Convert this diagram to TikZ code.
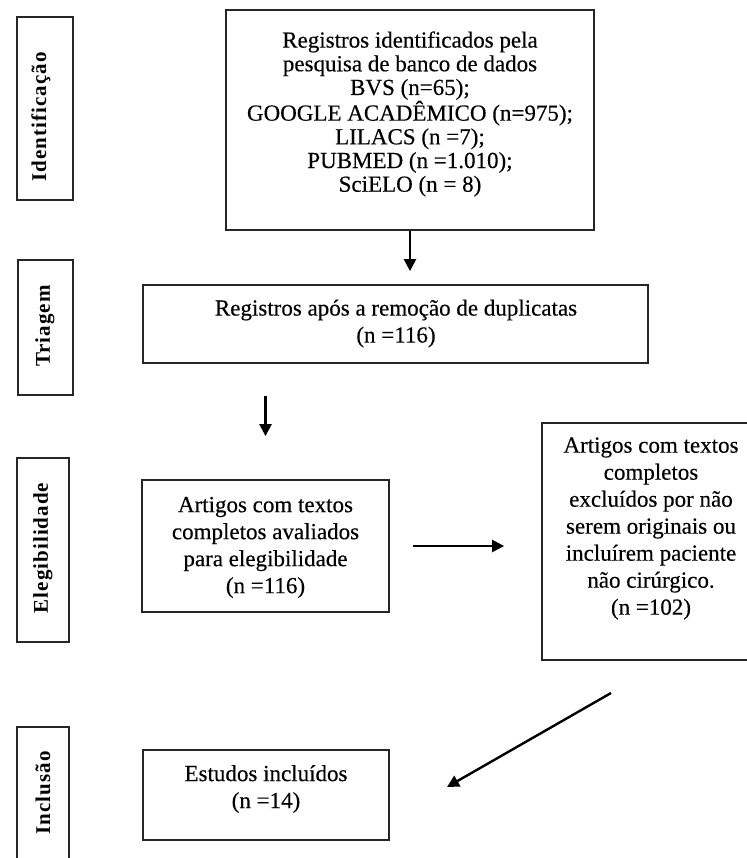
\documentclass[tikz,border=0pt]{standalone}
\usepackage{fontspec}
\setmainfont{Liberation Serif}[FakeBold=0.3]
\newfontfamily\lblfont{Liberation Serif}[LetterSpace=5]
\usetikzlibrary{arrows.meta}
\begin{document}
\begin{tikzpicture}[x=1pt,y=-1pt,
  frame/.style={draw=black!85, line width=1.8pt, inner sep=0pt},
  txt/.style={align=center, inner sep=0pt, font=\fontsize{23}{27}\selectfont},
  lbltxt/.style={rotate=90, inner sep=0pt, font=\lblfont\bfseries\fontsize{21}{23}\selectfont},
  arr/.style={line width=2.4pt, -{Triangle[length=12pt,width=12pt]}}]
\useasboundingbox[fill=white] (0,0) rectangle (746,858);
% stage label boxes
\node[frame, minimum width=56pt, minimum height=183pt] (lid) at (45,108.5) {};
\node[lbltxt] (tid) at (41,117) {Identificação};
\node[frame, minimum width=55pt, minimum height=135pt] (ltr) at (45.5,327.5) {};
\node[lbltxt] (ttr) at (45,326) {Triagem};
\node[frame, minimum width=52pt, minimum height=184pt] (lel) at (43,550) {};
\node[lbltxt] (tel) at (43,548) {Elegibilidade};
\node[frame, minimum width=52pt, minimum height=152pt] (lin) at (43,803) {};
\node[lbltxt] (tin) at (43,793) {Inclusão};
% main boxes
\node[frame, minimum width=368pt, minimum height=220pt] (b1) at (410,120) {};
\node[txt, font=\fontsize{23}{23.7}\selectfont] (t1) at (410,114) {Registros identificados pela\\pesquisa de banco de dados\\BVS (n=65);\\GOOGLE ACADÊMICO (n=975);\\LILACS (n =7);\\PUBMED (n =1.010);\\SciELO (n = 8)};
\node[frame, minimum width=505pt, minimum height=78pt] (b2) at (395.5,324) {};
\node[txt] (t2) at (396,323.5) {Registros após a remoção de duplicatas\\(n =116)};
\node[frame, minimum width=247pt, minimum height=132pt] (b3) at (265.5,546) {};
\node[txt] (t3) at (265.5,547.5) {Artigos com textos\\completos avaliados\\para elegibilidade\\(n =116)};
\node[frame, minimum width=218pt, minimum height=237pt] (b4) at (651,541.5) {};
\node[txt] (t4) at (651,528.5) {Artigos com textos\\completos\\excluídos por não\\serem originais ou\\incluírem paciente\\não cirúrgico.\\(n =102)};
\node[frame, minimum width=246pt, minimum height=90pt] (b5) at (266,795) {};
\node[txt] (t5) at (266,789) {Estudos incluídos\\(n =14)};
% connectors
\draw[arr, shorten >=13pt] (b1.south) -- (b1.south |- b2.north);
\draw[arr, shorten <=32pt, shorten >=43pt] (b2.south -| b3.north) -- (b3.north);
\draw[arr, shorten <=23pt, shorten >=37pt] (b3.east) -- (b4.west |- b3.east);
\coordinate (d1) at (611,693);
\coordinate (d2) at (447,787);
\draw[arr] (d1) -- (d2);
\end{tikzpicture}
\end{document}
